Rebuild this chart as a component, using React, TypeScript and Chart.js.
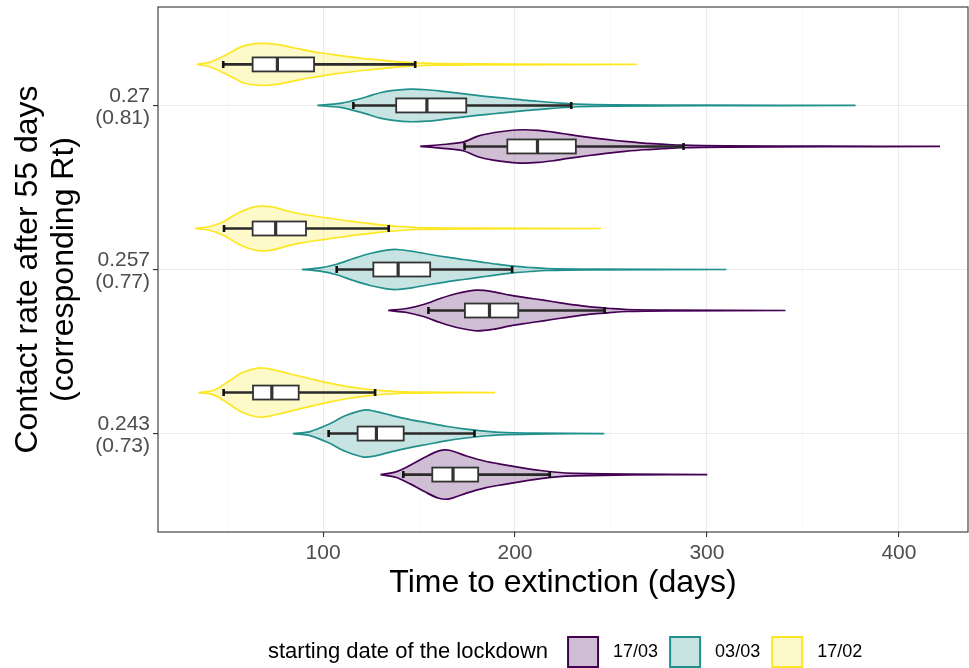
import React, { useEffect, useRef } from "react";
import { Chart, registerables } from "chart.js";

Chart.register(...registerables);

// ---------- categories & labels ----------
const CATEGORIES = ["0.27", "0.257", "0.243"];
const RT_LABELS = ["(0.81)", "(0.77)", "(0.73)"];
const X_TICKS = [100, 200, 300, 400];
const X_TITLE = "Time to extinction (days)";
const Y_TITLE = ["Contact rate after 55 days", "(corresponding Rt)"];
const LEGEND_TITLE = "starting date of the lockdown";
const DATES = ["17/03", "03/03", "17/02"];

// ---------- violin outlines: days (X) and relative density half-width (W) ----------
// lockdown 17/02
const V1702_C027_X = [34.2, 41, 49.8, 58.3, 67.2, 75.9, 84.5, 93.2, 102, 110.8, 119.3, 128, 136.6, 145.4, 160, 200, 263.5];
const V1702_C027_W = [0, 2.3, 10, 18.3, 21, 20, 16.7, 13.3, 10.7, 8.3, 6.3, 4.7, 3, 1.7, 0.8, 0.4, 0];
const V1702_C0257_X = [33.3, 41.1, 48, 55, 61.9, 67.2, 74.1, 81.1, 88, 96.7, 105.4, 114.1, 122.8, 131.4, 140.1, 148.9, 180, 244.8];
const V1702_C0257_W = [0, 2, 6.7, 14.7, 20.3, 22.3, 21.3, 17.7, 14.7, 12, 9.7, 7.3, 5.3, 3.3, 2, 1, 0.4, 0];
const V1702_C0243_X = [35.1, 43, 50.4, 57.8, 67.2, 76.5, 85.8, 95.1, 104.4, 113.7, 123, 132.3, 141.6, 160, 189.7];
const V1702_C0243_W = [0, 2.3, 10.7, 19.7, 24.7, 21.7, 17.3, 13, 9, 5.7, 3.3, 1.7, 0.7, 0.3, 0];
// lockdown 03/03
const V0303_C027_X = [97, 108.9, 115.8, 122.8, 129.7, 136.7, 145.4, 154.1, 162.7, 171.4, 180.1, 188.8, 197.5, 206.2, 214.8, 223.6, 232.3, 250, 300, 377.4];
const V0303_C027_W = [0, 2, 5, 8.7, 12.7, 15, 16.3, 15.7, 14, 12, 10, 8.3, 6.7, 5, 3.7, 2.3, 1.3, 0.6, 0.3, 0];
const V0303_C0257_X = [88.9, 98.4, 107.1, 115.8, 124.5, 133.2, 138.4, 147.1, 155.8, 164.5, 173.2, 181.9, 190.6, 199.2, 207.9, 216.6, 240, 310.1];
const V0303_C0257_W = [0, 1.7, 5.3, 11, 16, 19.3, 20, 18, 15, 12.3, 10, 7.7, 5.3, 3.3, 2, 1, 0.4, 0];
const V0303_C0243_X = [84.3, 93.2, 102.6, 111.8, 121.2, 126.7, 136, 145.4, 154.7, 164, 173.3, 182.6, 191.9, 210, 246.5];
const V0303_C0243_W = [0, 2, 9, 18, 23.5, 22.5, 18, 14, 10.7, 7.3, 4.7, 2.7, 1.3, 0.5, 0];
// lockdown 17/03
const V1703_C027_X = [150.6, 161.1, 172.9, 180.7, 188.6, 196.4, 204.3, 212.1, 219.9, 227.7, 237.6, 247.4, 257.2, 267, 276.7, 286.7, 310, 360, 421.4];
const V1703_C027_W = [0, 1.7, 4.3, 10.3, 13.7, 15.7, 16.7, 16, 14.3, 12, 9.3, 7, 5, 3.3, 2.3, 1.3, 0.6, 0.3, 0];
const V1703_C0257_X = [133.9, 143.6, 152.3, 161, 169.7, 180.1, 188.8, 197.5, 206.2, 214.9, 223.6, 232.3, 240.9, 249.6, 258.3, 280, 340.9];
const V1703_C0257_W = [0, 2, 6, 12, 17, 20.3, 18.7, 15.3, 12.7, 10.3, 7.7, 5.3, 3.3, 2, 1, 0.4, 0];
const V1703_C0243_X = [129.9, 137.9, 145.4, 152.8, 160.3, 165.8, 175.1, 184.5, 193.8, 203.1, 212.4, 221.7, 231, 260, 300.2];
const V1703_C0243_W = [0, 2.7, 9.3, 17, 23.7, 24.3, 18.3, 13.3, 10, 7, 4.3, 2.3, 1.3, 0.4, 0];

// ---------- boxplot stats: [lower whisker, Q1, median, Q3, upper whisker] per category ----------
const BOX_1702 = [
  [48.0, 63.3, 76.2, 95.3, 148.0],
  [48.4, 63.3, 75.3, 91.1, 134.2],
  [48.2, 63.5, 73.3, 87.3, 127.1],
];
const BOX_0303 = [
  [115.8, 138.1, 154.1, 174.6, 229.3],
  [107.1, 126.2, 139.1, 155.8, 198.5],
  [102.9, 118.0, 127.8, 142.0, 178.9],
];
const BOX_1703 = [
  [173.7, 196.0, 211.7, 231.7, 287.8],
  [154.9, 173.9, 186.7, 201.7, 246.7],
  [141.8, 156.9, 167.7, 180.8, 218.1],
];

// density unit -> category units
const DENSITY_SCALE = 1 / 164;

const SERIES = [
  {
    date: DATES[0],
    color: "#440154",
    fill: "rgba(68,1,84,0.25)",
    offset: 0.25,
    xs: [V1703_C027_X, V1703_C0257_X, V1703_C0243_X],
    ws: [V1703_C027_W, V1703_C0257_W, V1703_C0243_W],
    box: BOX_1703,
  },
  {
    date: DATES[1],
    color: "#21908C",
    fill: "rgba(33,144,140,0.25)",
    offset: 0,
    xs: [V0303_C027_X, V0303_C0257_X, V0303_C0243_X],
    ws: [V0303_C027_W, V0303_C0257_W, V0303_C0243_W],
    box: BOX_0303,
  },
  {
    date: DATES[2],
    color: "#FDE725",
    fill: "rgba(253,231,37,0.25)",
    offset: -0.25,
    xs: [V1702_C027_X, V1702_C0257_X, V1702_C0243_X],
    ws: [V1702_C027_W, V1702_C0257_W, V1702_C0243_W],
    box: BOX_1702,
  },
];

const FONT = '"Liberation Sans", Arial, Helvetica, sans-serif';

function violinPoints(xs: number[], ws: number[], center: number) {
  const top = xs.map((x, i) => ({ x, y: center - ws[i] * DENSITY_SCALE }));
  const bottom = xs
    .map((x, i) => ({ x, y: center + ws[i] * DENSITY_SCALE }))
    .reverse();
  return [...top, ...bottom];
}

const boxPlugin = {
  id: "boxes",
  afterDatasetsDraw(chart: any) {
    const { ctx, chartArea, scales } = chart;
    const x = scales.x;
    const y = scales.y;
    ctx.save();
    ctx.beginPath();
    ctx.rect(chartArea.left, chartArea.top, chartArea.right - chartArea.left, chartArea.bottom - chartArea.top);
    ctx.clip();
    const half = 7;
    const capHalf = 3.5;
    SERIES.forEach((s) => {
      s.box.forEach((b, ci) => {
        const yc = y.getPixelForValue(ci + s.offset);
        const [lo, q1, med, q3, hi] = b.map((v) => x.getPixelForValue(v));
        ctx.strokeStyle = "#2a2a2a";
        ctx.lineWidth = 2.6;
        ctx.beginPath();
        ctx.moveTo(lo, yc);
        ctx.lineTo(hi, yc);
        ctx.stroke();
        ctx.strokeStyle = "#111111";
        ctx.lineWidth = 2.6;
        ctx.beginPath();
        ctx.moveTo(lo, yc - capHalf);
        ctx.lineTo(lo, yc + capHalf);
        ctx.moveTo(hi, yc - capHalf);
        ctx.lineTo(hi, yc + capHalf);
        ctx.stroke();
        ctx.fillStyle = "#ffffff";
        ctx.fillRect(q1, yc - half, q3 - q1, 2 * half);
        ctx.strokeStyle = "#333333";
        ctx.lineWidth = 1.8;
        ctx.strokeRect(q1, yc - half, q3 - q1, 2 * half);
        ctx.lineWidth = 3.2;
        ctx.beginPath();
        ctx.moveTo(med, yc - half);
        ctx.lineTo(med, yc + half);
        ctx.stroke();
      });
    });
    ctx.restore();
    // panel border
    ctx.save();
    ctx.strokeStyle = "#333333";
    ctx.lineWidth = 1.1;
    ctx.strokeRect(chartArea.left, chartArea.top, chartArea.right - chartArea.left, chartArea.bottom - chartArea.top);
    ctx.restore();
  },
};

const legendPlugin = {
  id: "ggLegend",
  afterDraw(chart: any) {
    const { ctx } = chart;
    ctx.save();
    ctx.textBaseline = "middle";
    ctx.textAlign = "left";
    ctx.fillStyle = "#000000";
    ctx.font = `22px ${FONT}`;
    const cy = 652;
    let cx = 268;
    ctx.fillText(LEGEND_TITLE, cx, cy);
    cx += ctx.measureText(LEGEND_TITLE).width + 19;
    SERIES.forEach((s) => {
      const size = 32;
      ctx.fillStyle = s.fill;
      ctx.fillRect(cx + 1, cy - size / 2 + 1, size - 2, size - 2);
      ctx.strokeStyle = s.color;
      ctx.lineWidth = 2;
      ctx.strokeRect(cx + 1, cy - size / 2 + 1, size - 2, size - 2);
      cx += size + 14;
      ctx.fillStyle = "#000000";
      ctx.font = `18px ${FONT}`;
      ctx.fillText(s.date, cx, cy);
      cx += ctx.measureText(s.date).width + 11;
    });
    ctx.restore();
  },
};

export default function App() {
  const canvasRef = useRef<HTMLCanvasElement | null>(null);

  useEffect(() => {
    if (!canvasRef.current) return;
    Chart.defaults.font.family = FONT;

    const datasets: any[] = [];
    SERIES.forEach((s) => {
      s.xs.forEach((xs, ci) => {
        datasets.push({
          label: `${s.date} ${CATEGORIES[ci]}`,
          data: violinPoints(xs, s.ws[ci], ci + s.offset),
          showLine: true,
          fill: "shape",
          tension: 0.3,
          pointRadius: 0,
          pointHoverRadius: 0,
          borderColor: s.color,
          backgroundColor: s.fill,
          borderWidth: 1.7,
        });
      });
    });

    const chart = new Chart(canvasRef.current, {
      type: "scatter",
      data: { datasets },
      options: {
        animation: false,
        responsive: false,
        events: [],
        layout: { padding: { top: 7, right: 1, bottom: 60, left: 0 } },
        plugins: {
          legend: { display: false },
          tooltip: { enabled: false },
        },
        scales: {
          x: {
            type: "linear",
            min: 14,
            max: 436,
            afterFit: (s: any) => {
              s.height = 76;
              s.paddingLeft = 0;
              s.paddingRight = 0;
            },
            ticks: {
              stepSize: 50,
              includeBounds: false,
              autoSkip: false,
              maxRotation: 0,
              padding: 4,
              color: "#4D4D4D",
              font: { size: 21 },
              callback: (v: any) => (X_TICKS.includes(Number(v)) ? String(v) : ""),
            },
            grid: {
              color: (c: any) => (c.tick && Number(c.tick.value) % 100 === 0 ? "#EBEBEB" : "#F4F4F4"),
              lineWidth: (c: any) => (c.tick && Number(c.tick.value) % 100 === 0 ? 1.1 : 0.6),
              tickLength: 5,
              tickColor: (c: any) =>
                c.tick && Number(c.tick.value) % 100 === 0 ? "#333333" : "rgba(0,0,0,0)",
              tickWidth: 1.1,
            },
            border: { display: false },
            title: {
              display: true,
              text: X_TITLE,
              color: "#000000",
              font: { size: 32 },
              padding: { top: 0, bottom: 6 },
            },
          },
          y: {
            type: "linear",
            min: -0.6,
            max: 2.6,
            reverse: true,
            afterFit: (s: any) => {
              s.width = 158;
              s.paddingTop = 0;
              s.paddingBottom = 0;
            },
            ticks: {
              stepSize: 1,
              includeBounds: false,
              padding: 3,
              labelOffset: 2,
              color: "#4D4D4D",
              font: { size: 21, lineHeight: 1.05 },
              callback: (v: any) => {
                const i = Number(v);
                return Number.isInteger(i) && i >= 0 && i < CATEGORIES.length
                  ? [CATEGORIES[i], RT_LABELS[i]]
                  : "";
              },
            },
            grid: {
              color: "#EBEBEB",
              lineWidth: 1.1,
              tickLength: 5,
              tickColor: "#333333",
              tickWidth: 1.1,
            },
            border: { display: false },
            title: {
              display: true,
              text: Y_TITLE,
              color: "#000000",
              font: { size: 32, lineHeight: 1.125 },
              padding: { top: 10, bottom: 0 },
            },
          },
        },
      },
      plugins: [boxPlugin, legendPlugin],
    } as any);

    return () => chart.destroy();
  }, []);

  return (
    <div style={{ position: "absolute", left: 0, top: 0, width: 969, height: 668, background: "#fff" }}>
      <canvas ref={canvasRef} width={969} height={668} />
    </div>
  );
}
